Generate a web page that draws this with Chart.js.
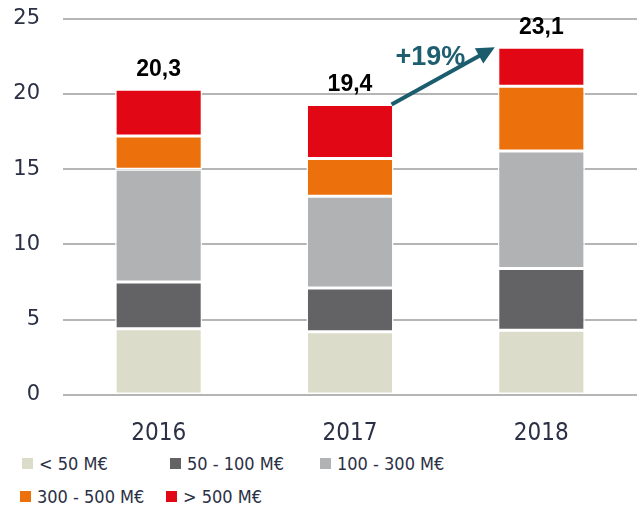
<!DOCTYPE html>
<html>
<head>
<meta charset="utf-8">
<script src="https://cdn.jsdelivr.net/npm/chart.js@4"></script>
<style>
  body { margin: 0; background: #fff; overflow: hidden; }
  #wrap { position: relative; width: 637px; height: 508px; overflow: hidden; }
  #chart { position: absolute; left: 0; top: -17px; }
  #legend { position: absolute; left: 0; top: 452px; width: 637px;
    font-family: "Liberation Sans Narrow", "DejaVu Sans Condensed", sans-serif; font-size: 18px; color: #2b3045; }
  .item { position: absolute; display: flex; align-items: center; }
  .box { width: 11px; height: 11px; margin-right: 6px; }
</style>
</head>
<body>
<div id="wrap">
  <canvas id="chart" width="637" height="469"></canvas>
  <div id="legend"></div>
</div>
<script>
const years = ['2016', '2017', '2018'];
const seriesNames = ['< 50 M€', '50 - 100 M€', '100 - 300 M€', '300 - 500 M€', '> 500 M€'];
const under50 = [4.4, 4.2, 4.3];
const from50to100 = [3.1, 2.9, 4.1];
const from100to300 = [7.5, 6.1, 7.8];
const from300to500 = [2.2, 2.5, 4.3];
const over500 = [3.1, 3.6, 2.6];
const totals = ['20,3', '19,4', '23,1'];
const growthLabel = '+19%';
const yTicks = [0, 5, 10, 15, 20, 25];

const colors = ['#dcdcca', '#636366', '#b1b2b4', '#ec710d', '#e20714'];
const values = [under50, from50to100, from100to300, from300to500, over500];

// totals above bars + growth arrow
const annotations = {
    id: 'annotations',
    afterDatasetsDraw(chart) {
        const ctx = chart.ctx;
        const top = chart.getDatasetMeta(values.length - 1).data;
        ctx.save();
        ctx.fillStyle = '#000';
        ctx.font = 'bold 23px "Liberation Sans", Arial, sans-serif';
        ctx.textAlign = 'center';
        ctx.textBaseline = 'alphabetic';
        top.forEach((bar, i) => ctx.fillText(totals[i], bar.x, bar.y - 13));

        const a = top[1], b = top[2];
        const x1 = a.x + a.width / 2 - 2, y1 = a.y;
        const x2 = b.x - b.width / 2 - 3, y2 = b.y;
        const ang = Math.atan2(y2 - y1, x2 - x1);
        const head = 20;
        ctx.strokeStyle = '#1b5c6d';
        ctx.fillStyle = '#1b5c6d';
        ctx.lineWidth = 4;
        ctx.beginPath();
        ctx.moveTo(x1, y1);
        ctx.lineTo(x2 - Math.cos(ang) * head * 0.8, y2 - Math.sin(ang) * head * 0.8);
        ctx.stroke();
        ctx.beginPath();
        ctx.moveTo(x2, y2);
        ctx.lineTo(x2 - head * Math.cos(ang - 0.45), y2 - head * Math.sin(ang - 0.45));
        ctx.lineTo(x2 - head * Math.cos(ang + 0.45), y2 - head * Math.sin(ang + 0.45));
        ctx.closePath();
        ctx.fill();

        ctx.font = 'bold 27px "Liberation Sans", Arial, sans-serif';
        ctx.textAlign = 'left';
        ctx.fillStyle = '#1e5e6f';
        ctx.fillText(growthLabel, x1 + 4, y2 + 18);
        ctx.restore();
    }
};

const chart = new Chart(document.getElementById('chart'), {
    type: 'bar',
    data: {
        labels: years,
        datasets: values.map((v, i) => ({
            label: seriesNames[i],
            data: v,
            backgroundColor: colors[i],
            borderColor: '#ffffff',
            borderWidth: 1.5,
            borderSkipped: false,
            categoryPercentage: 1,
            barPercentage: 0.455
        }))
    },
    options: {
        responsive: false,
        animation: false,
        layout: { padding: { top: 1, right: 0, bottom: 0, left: 0 } },
        plugins: { legend: { display: false }, tooltip: { enabled: false } },
        scales: {
            x: {
                stacked: true,
                grid: { display: false },
                border: { display: false },
                ticks: { color: '#2b3045', padding: 16, font: { family: '"Liberation Sans Narrow", "DejaVu Sans Condensed", sans-serif', size: 24 } },
                afterFit: s => { s.height = 57; }
            },
            y: {
                stacked: true,
                min: 0,
                max: 25,
                afterBuildTicks: s => { s.ticks = yTicks.map(v => ({ value: v })); },
                grid: { color: '#b5b5b5', lineWidth: 2, drawTicks: false },
                border: { display: false },
                ticks: { color: '#2b3045', padding: 23, font: { family: '"DejaVu Sans", sans-serif', size: 21 } },
                afterFit: s => { s.width = 63; }
            }
        }
    },
    plugins: [annotations]
});

// legend in two rows, like the source
const legendPos = [[22, 1], [170, 1], [320, 1], [20, 34], [166, 34]];
const legend = document.getElementById('legend');
seriesNames.forEach((name, i) => {
    const it = document.createElement('div');
    it.className = 'item';
    it.style.left = legendPos[i][0] + 'px';
    it.style.top = legendPos[i][1] + 'px';
    it.innerHTML = '<span class="box" style="background:' + colors[i] + '"></span><span>' + name + '</span>';
    legend.appendChild(it);
});
</script>
</body>
</html>
